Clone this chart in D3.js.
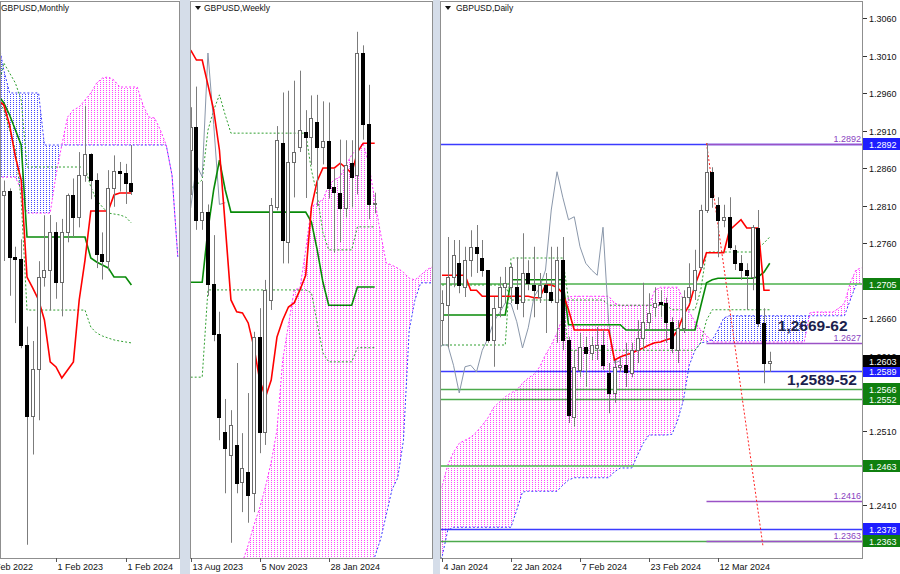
<!DOCTYPE html>
<html><head><meta charset="utf-8">
<script src="https://cdn.jsdelivr.net/npm/d3@7"></script>
<style>
html,body{margin:0;padding:0;background:#fff;}
svg{display:block;}
text{font-family:"Liberation Sans",Arial,sans-serif;}
</style></head><body>
<svg id="chart" width="900" height="574"></svg>
<script>
// ================= DATA =================
// ---- Monthly GBPUSD (index 0 = Feb 2023; first bar = Apr 2022) ----
const monthlyStart = -10;
const monthlyOpen  = [1.3098,1.2574,1.2601,1.2178,1.2169,1.1620,1.1172,1.1466,1.2054,1.2097,1.2340,1.2023,1.2337,1.2572,1.2435,1.2703,1.2835,1.2670,1.2200,1.2155,1.2622,1.2730,1.2718,1.2650];
const monthlyHigh  = [1.3167,1.2667,1.2617,1.2246,1.2293,1.1738,1.1646,1.2154,1.2446,1.2448,1.2402,1.2423,1.2584,1.2680,1.2848,1.3142,1.2840,1.2713,1.2337,1.2733,1.2827,1.2785,1.2773,1.2893];
const monthlyLow   = [1.2411,1.2155,1.1934,1.1760,1.1600,1.0350,1.0924,1.1142,1.1992,1.1841,1.1915,1.1803,1.2274,1.2308,1.2369,1.2659,1.2548,1.2110,1.2037,1.2096,1.2500,1.2597,1.2518,1.2575];
const monthlyClose = [1.2574,1.2601,1.2178,1.2169,1.1620,1.1172,1.1466,1.2054,1.2097,1.2340,1.2023,1.2337,1.2572,1.2435,1.2703,1.2835,1.2670,1.2200,1.2155,1.2622,1.2730,1.2718,1.2650,1.2603];
const monthlyTenkan = [1.3179,1.3147,1.3020,1.2817,1.2670,1.2053,1.1983,1.1907,1.1780,1.1513,1.1481,1.1411,1.1462,1.1513,1.1907,1.2161,1.2473,1.2473,1.2473,1.2473,1.2575,1.2588,1.2588,1.2588];
const monthlyKijun  = [1.3211,1.3160,1.3084,1.2988,1.2893,1.2308,1.2308,1.2308,1.2308,1.2308,1.2308,1.2308,1.2308,1.2308,1.2308,1.2308,1.2174,1.2149,1.2130,1.2111,1.2053,1.2053,1.2053,1.2002];
const monthlyUpperBand = [1.3243,1.3415,1.3351,1.3287,1.3179,1.2753,1.2753,1.2753,1.2753,1.2753,1.2753,1.2753,1.2753,1.2753,1.2753,1.2753,1.2626,1.2543,1.2499,1.2460,1.2454,1.2448,1.2435,1.2397];
const monthlyLowerBand = [1.3179,1.3116,1.2988,1.2861,1.2543,1.1843,1.1843,1.1843,1.1843,1.1843,1.1843,1.1843,1.1843,1.1843,1.1843,1.1843,1.1735,1.1697,1.1678,1.1665,1.1653,1.1646,1.1640,1.1634];
const monthlyCloudStart = -10;
const monthlySpanA = [1.3561,1.3370,1.3224,1.3224,1.3224,1.3224,1.3224,1.3224,1.2893,1.2893,1.2893,1.2893,1.2893,1.2893,1.2893,1.2893,1.2893,1.2893,1.2893,1.2893,1.2893,1.2893,1.2893,1.2893,1.2893,1.2893,1.2893,1.2893,1.2893,1.2893,1.2702,1.2181];
const monthlySpanB = [1.2689,1.2689,1.2689,1.2689,1.2607,1.2460,1.2460,1.2460,1.2460,1.2460,1.2702,1.2893,1.3071,1.3116,1.3135,1.3179,1.3224,1.3287,1.3319,1.3326,1.3306,1.3262,1.3262,1.3262,1.3262,1.3147,1.3071,1.3065,1.2988,1.2893,1.2702,1.2181];
const monthlyTickIdx = [-12, 0, 12];
const monthlyTickLabels = ["1 Feb 2022","1 Feb 2023","1 Feb 2024"];

// ---- Weekly GBPUSD (index 0 = week of 13 Aug 2023) ----
const weeklyStart = 0;
const weeklyOpen  = [1.2692,1.2731,1.2574,1.2588,1.2465,1.2381,1.2214,1.2175,1.2192,1.2129,1.2146,1.2110,1.2375,1.2214,1.2438,1.2596,1.2704,1.2536,1.2672,1.2697,1.2723,1.2714,1.2740,1.2697,1.2708,1.2630,1.2619,1.2594,1.2670,1.2650,1.2857,1.2736,1.2600];
const weeklyHigh  = [1.2765,1.2800,1.2640,1.2600,1.2548,1.2418,1.2270,1.2251,1.2331,1.2212,1.2280,1.2384,1.2424,1.2472,1.2611,1.2733,1.2790,1.2793,1.2810,1.2827,1.2760,1.2785,1.2786,1.2775,1.2773,1.2660,1.2710,1.2709,1.2709,1.2893,1.2870,1.2803,1.2620];
const weeklyLow   = [1.2616,1.2557,1.2557,1.2445,1.2368,1.2200,1.2110,1.2026,1.2110,1.2078,1.2060,1.2078,1.2178,1.2192,1.2421,1.2590,1.2500,1.2500,1.2612,1.2689,1.2611,1.2667,1.2597,1.2668,1.2610,1.2518,1.2536,1.2578,1.2595,1.2617,1.2710,1.2575,1.2585];
const weeklyClose = [1.2731,1.2574,1.2588,1.2465,1.2381,1.2239,1.2187,1.2226,1.2127,1.2153,1.2107,1.2375,1.2214,1.2455,1.2599,1.2709,1.2540,1.2672,1.2689,1.2726,1.2714,1.2747,1.2697,1.2708,1.2628,1.2621,1.2594,1.2667,1.2647,1.2857,1.2736,1.2600,1.2603];
const weeklyTenkan = [1.2862,1.2845,1.2845,1.2803,1.2760,1.2692,1.2565,1.2438,1.2418,1.2416,1.2399,1.2358,1.2302,1.2273,1.2302,1.2375,1.2404,1.2426,1.2433,1.2455,1.2480,1.2596,1.2640,1.2662,1.2662,1.2662,1.2670,1.2662,1.2653,1.2689,1.2704,1.2704,1.2704];
const weeklyKijun  = [1.2468,1.2468,1.2468,1.2557,1.2625,1.2675,1.2625,1.2587,1.2587,1.2587,1.2587,1.2587,1.2587,1.2587,1.2587,1.2587,1.2587,1.2587,1.2587,1.2587,1.2587,1.2570,1.2523,1.2468,1.2429,1.2429,1.2429,1.2429,1.2429,1.2460,1.2460,1.2460,1.2460];
const weeklyUpperBand = [1.2628,1.2633,1.2642,1.2726,1.2760,1.2786,1.2752,1.2721,1.2721,1.2721,1.2721,1.2721,1.2721,1.2721,1.2721,1.2721,1.2721,1.2721,1.2721,1.2721,1.2721,1.2658,1.2616,1.2552,1.2523,1.2523,1.2523,1.2523,1.2523,1.2562,1.2562,1.2562,1.2562];
const weeklyLowerBand = [1.2307,1.2307,1.2307,1.2455,1.2455,1.2455,1.2455,1.2455,1.2455,1.2455,1.2455,1.2455,1.2455,1.2455,1.2455,1.2455,1.2455,1.2455,1.2455,1.2455,1.2455,1.2450,1.2399,1.2348,1.2333,1.2333,1.2333,1.2333,1.2333,1.2357,1.2357,1.2357,1.2357];
const weeklyCloudStart = 9;
const weeklySpanB = [1.1993,1.2022,1.2056,1.2085,1.2121,1.2163,1.2217,1.2336,1.2396,1.2455,1.2458,1.2523,1.2596,1.2603,1.2608,1.2633,1.2642,1.2647,1.2667,1.2684,1.2696,1.2704,1.2667,1.2608,1.2552,1.2501,1.2497,1.2492,1.2485,1.2475,1.2472,1.2480,1.2489,1.2494];
const weeklySpanAStart = 32; // earlier values lie below the visible range
const weeklySpanA = [1.2002,1.2031,1.2073,1.2116,1.2136,1.2200,1.2387,1.2438,1.2467,1.2467,1.2467];
const weeklyTickIdx = [0, 12, 24];
const weeklyTickLabels = ["13 Aug 2023","5 Nov 2023","28 Jan 2024"];

// ---- Daily GBPUSD (index 0 = 4 Jan 2024) ----
const dailyStart = 0;
const dailyOpen  = [1.2657,1.2677,1.2715,1.2733,1.2701,1.2737,1.2755,1.2740,1.2724,1.2631,1.2675,1.2701,1.2701,1.2701,1.2681,1.2720,1.2704,1.2688,1.2704,1.2695,1.2681,1.2737,1.2631,1.2528,1.2591,1.2621,1.2613,1.2620,1.2624,1.2587,1.2560,1.2595,1.2597,1.2587,1.2617,1.2633,1.2655,1.2675,1.2681,1.2680,1.2655,1.2617,1.2647,1.2688,1.2697,1.2728,1.2804,1.2855,1.2811,1.2791,1.2795,1.2751,1.2733,1.2724,1.2715,1.2780,1.2653,1.2600];
const dailyHigh  = [1.2697,1.2768,1.2764,1.2764,1.2755,1.2777,1.2784,1.2764,1.2724,1.2688,1.2715,1.2728,1.2733,1.2741,1.2773,1.2737,1.2755,1.2720,1.2720,1.2755,1.2755,1.2768,1.2635,1.2617,1.2640,1.2635,1.2635,1.2648,1.2644,1.2600,1.2604,1.2608,1.2627,1.2627,1.2657,1.2707,1.2693,1.2701,1.2697,1.2687,1.2661,1.2657,1.2697,1.2733,1.2751,1.2811,1.2893,1.2861,1.2821,1.2811,1.2821,1.2757,1.2744,1.2733,1.2784,1.2804,1.2673,1.2615];
const dailyLow   = [1.2624,1.2621,1.2701,1.2693,1.2688,1.2715,1.2720,1.2715,1.2627,1.2595,1.2661,1.2680,1.2680,1.2671,1.2661,1.2697,1.2661,1.2680,1.2640,1.2680,1.2627,1.2617,1.2520,1.2515,1.2581,1.2568,1.2604,1.2604,1.2591,1.2533,1.2547,1.2588,1.2568,1.2581,1.2600,1.2617,1.2644,1.2661,1.2661,1.2627,1.2613,1.2600,1.2640,1.2680,1.2684,1.2724,1.2800,1.2807,1.2741,1.2781,1.2751,1.2724,1.2711,1.2671,1.2697,1.2648,1.2573,1.2588];
const dailyClose = [1.2680,1.2715,1.2744,1.2704,1.2737,1.2755,1.2747,1.2724,1.2631,1.2673,1.2701,1.2707,1.2728,1.2680,1.2720,1.2707,1.2697,1.2704,1.2695,1.2684,1.2737,1.2631,1.2531,1.2595,1.2621,1.2613,1.2624,1.2624,1.2597,1.2560,1.2595,1.2597,1.2588,1.2617,1.2633,1.2655,1.2667,1.2680,1.2679,1.2655,1.2620,1.2647,1.2688,1.2701,1.2724,1.2804,1.2855,1.2821,1.2791,1.2795,1.2755,1.2733,1.2724,1.2717,1.2781,1.2653,1.2600,1.2603];
const dailyTenkan = [1.2717,1.2717,1.2717,1.2717,1.2717,1.2697,1.2697,1.2689,1.2689,1.2689,1.2689,1.2689,1.2689,1.2689,1.2689,1.2689,1.2687,1.2687,1.2704,1.2704,1.2701,1.2693,1.2671,1.2644,1.2644,1.2644,1.2644,1.2644,1.2644,1.2644,1.2604,1.2608,1.2611,1.2613,1.2617,1.2620,1.2624,1.2627,1.2628,1.2631,1.2633,1.2644,1.2664,1.2677,1.2704,1.2724,1.2747,1.2747,1.2747,1.2747,1.2777,1.2784,1.2791,1.2780,1.2780,1.2780,1.2697,1.2697];
const dailyKijun  = [1.2664,1.2664,1.2664,1.2664,1.2664,1.2664,1.2664,1.2664,1.2664,1.2664,1.2664,1.2664,1.2711,1.2711,1.2711,1.2711,1.2711,1.2711,1.2711,1.2711,1.2711,1.2711,1.2651,1.2651,1.2651,1.2651,1.2651,1.2651,1.2651,1.2651,1.2651,1.2651,1.2644,1.2644,1.2644,1.2644,1.2644,1.2644,1.2644,1.2644,1.2644,1.2644,1.2644,1.2644,1.2644,1.2676,1.2707,1.2711,1.2713,1.2713,1.2713,1.2713,1.2713,1.2713,1.2713,1.2715,1.2721,1.2733];
const dailyBandA = [1.2624,1.2624,1.2624,1.2624,1.2624,1.2624,1.2624,1.2624,1.2624,1.2624,1.2624,1.2624,1.2740,1.2740,1.2740,1.2740,1.2740,1.2740,1.2740,1.2740,1.2740,1.2740,1.2684,1.2684,1.2684,1.2684,1.2684,1.2684,1.2684,1.2677,1.2677,1.2677,1.2677,1.2677,1.2677,1.2677,1.2677,1.2677,1.2677,1.2677,1.2671,1.2671,1.2671,1.2671,1.2671,1.2697,1.2748,1.2748,1.2748,1.2748,1.2748,1.2748,1.2748,1.2748,1.2748,1.2753,1.2760,1.2768];
const dailyBandB = [1.2704,1.2704,1.2704,1.2704,1.2704,1.2704,1.2704,1.2704,1.2704,1.2704,1.2704,1.2704,1.2684,1.2684,1.2684,1.2684,1.2684,1.2684,1.2684,1.2684,1.2684,1.2684,1.2617,1.2617,1.2617,1.2617,1.2617,1.2617,1.2617,1.2617,1.2617,1.2617,1.2617,1.2617,1.2617,1.2617,1.2617,1.2617,1.2617,1.2617,1.2617,1.2617,1.2617,1.2617,1.2617,1.2627,1.2657,1.2671,1.2671,1.2671,1.2671,1.2671,1.2671,1.2671,1.2671,1.2671,1.2671,1.2671];
const dailyCloudStart = -1;
const dailySpanA = [1.2337,1.2341,1.2377,1.2381,1.2381,1.2381,1.2381,1.2381,1.2381,1.2381,1.2381,1.2381,1.2381,1.2381,1.2404,1.2428,1.2429,1.2429,1.2429,1.2429,1.2429,1.2429,1.2437,1.2444,1.2447,1.2447,1.2447,1.2447,1.2447,1.2447,1.2447,1.2455,1.2460,1.2460,1.2460,1.2477,1.2493,1.2504,1.2504,1.2504,1.2504,1.2505,1.2524,1.2551,1.2597,1.2617,1.2627,1.2628,1.2631,1.2644,1.2660,1.2663,1.2663,1.2663,1.2663,1.2663,1.2663,1.2663,1.2663,1.2663,1.2663,1.2663,1.2663,1.2663,1.2663,1.2663,1.2663,1.2663,1.2663,1.2663,1.2663,1.2663,1.2684,1.2704,1.2707];
const dailySpanB = [1.2431,1.2435,1.2464,1.2481,1.2493,1.2497,1.2501,1.2508,1.2517,1.2527,1.2541,1.2548,1.2555,1.2560,1.2564,1.2573,1.2580,1.2585,1.2595,1.2611,1.2624,1.2640,1.2661,1.2688,1.2689,1.2689,1.2689,1.2689,1.2689,1.2689,1.2689,1.2680,1.2677,1.2677,1.2677,1.2677,1.2677,1.2677,1.2697,1.2701,1.2701,1.2701,1.2701,1.2684,1.2668,1.2655,1.2644,1.2637,1.2628,1.2628,1.2628,1.2628,1.2628,1.2628,1.2628,1.2628,1.2628,1.2628,1.2628,1.2628,1.2628,1.2628,1.2628,1.2628,1.2628,1.2667,1.2668,1.2668,1.2668,1.2668,1.2673,1.2680,1.2707,1.2724,1.2727];
const dailyTrend = [[46,1.2893],[55.8,1.2357]];
const dailyGreenLevels  = [1.2705,1.2566,1.2552,1.2463,1.2363];
const dailyBlueLevels   = [1.2892,1.2589,1.2378];
const dailyPurpleLevels = [1.2892,1.2627,1.2416,1.2363];
const dailyPurpleFrom = 46;
const dailyZones = [{text:"1,2669-62", i:58.4, p:1.2643},{text:"1,2589-52", i:60.0, p:1.2571}];
const dailyTickIdx = [0,12,24,36,48];
const dailyTickLabels = ["4 Jan 2024","22 Jan 2024","7 Feb 2024","23 Feb 2024","12 Mar 2024"];
// tick labels of the price scale (those fully hidden behind level boxes are left out)
const priceAxisLabels = ["1.3060","1.3010","1.2960","1.2910","1.2860","1.2810","1.2760","1.2710","1.2660","1.2610","1.2510","1.2410"];

// ================= DRAWING =================
const svg = d3.select("#chart");
const defs = svg.append("defs");
function hatch(id,col){
  const p=defs.append("pattern").attr("id",id).attr("patternUnits","userSpaceOnUse").attr("width",3).attr("height",2);
  p.append("rect").attr("x",1).attr("y",0).attr("width",1).attr("height",1).attr("fill",col);
}
hatch("hatchM","#ff44ff"); hatch("hatchB","#4545ff");

svg.append("rect").attr("x",0).attr("y",0).attr("width",900).attr("height",574).attr("fill","#fff");
svg.append("rect").attr("x",180).attr("y",0).attr("width",10).attr("height",574).attr("fill","#d5dde9");
svg.append("rect").attr("x",433).attr("y",0).attr("width",7).attr("height",574).attr("fill","#d5dde9");

const xM=d3.scaleLinear().domain([0,12]).range([56,125.6]);
const yM=d3.scaleLinear().domain([1.0400,1.2893]).range([536.9,145]);
const xW=d3.scaleLinear().domain([0,24]).range([190.7,328.7]);
const yW=d3.scaleLinear().domain([1.2000,1.2857]).range([558.1,53]);
const xD=d3.scaleLinear().domain([0,48]).range([442,718]);
const yD=d3.scaleLinear().domain([1.2360,1.3060]).range([543,18]);

const ser=(start,arr)=>arr.map((v,j)=>({i:start+j,v}));
const candles=(start,o,h,l,c)=>o.map((v,j)=>({i:start+j,o:v,h:h[j],l:l[j],c:c[j]}));

function drawPanel(P){
  const {id,x0,x1,y0,y1,x,y}=P;
  svg.append("rect").attr("x",x0).attr("y",y0).attr("width",x1-x0).attr("height",y1-y0).attr("fill","#fff");
  defs.append("clipPath").attr("id","clip"+id).append("rect").attr("x",x0).attr("y",y0).attr("width",x1-x0).attr("height",y1-y0);
  const g=svg.append("g").attr("clip-path",`url(#clip${id})`);
  const pts=P.cloud;
  const ay=d=>d.a==null? y1+20 : y(d.a);
  defs.append("clipPath").attr("id","ab"+id).append("path").attr("d",d3.area().x(d=>x(d.i)).y0(y0-20).y1(ay)(pts));
  defs.append("clipPath").attr("id","be"+id).append("path").attr("d",d3.area().x(d=>x(d.i)).y0(ay).y1(y1+20)(pts));
  const ar=d3.area().x(d=>x(d.i)).y0(ay).y1(d=>y(d.b));
  g.append("path").attr("d",ar(pts)).attr("fill","url(#hatchM)").attr("clip-path",`url(#ab${id})`);
  g.append("path").attr("d",ar(pts)).attr("fill","url(#hatchB)").attr("clip-path",`url(#be${id})`);
  g.append("path").attr("d",d3.line().defined(d=>d.a!=null).x(d=>x(d.i)).y(d=>y(d.a))(pts))
    .attr("fill","none").attr("stroke","#3c3cff").attr("stroke-width",1).attr("stroke-dasharray","2,2");
  g.append("path").attr("d",d3.line().x(d=>x(d.i)).y(d=>y(d.b))(pts))
    .attr("fill","none").attr("stroke","#ff33ff").attr("stroke-width",1).attr("stroke-dasharray","2,2");
  if(P.levels) P.levels(g);
  const ln=d3.line().x(d=>x(d.i)).y(d=>y(d.v));
  [P.bandU,P.bandL].forEach(s=>g.append("path").attr("d",ln(s)).attr("fill","none")
      .attr("stroke","#2f9f2f").attr("stroke-width",1).attr("stroke-dasharray","2,2"));
  if(P.chikou) g.append("path").attr("d",ln(P.chikou)).attr("fill","none").attr("stroke","#8a97aa").attr("stroke-width",1);
  g.append("path").attr("d",ln(P.kijun)).attr("fill","none").attr("stroke","#088a08").attr("stroke-width",1.6);
  g.append("path").attr("d",ln(P.tenkan)).attr("fill","none").attr("stroke","#ff0000").attr("stroke-width",1.6);
  if(P.trend) g.append("path").attr("d",d3.line().x(d=>x(d[0])).y(d=>y(d[1]))(P.trend))
      .attr("fill","none").attr("stroke","#ff2020").attr("stroke-width",1).attr("stroke-dasharray","2,2");
  const cg=g.append("g");
  P.candles.forEach(d=>{
    const cx=Math.round(x(d.i));
    cg.append("line").attr("x1",cx+0.5).attr("x2",cx+0.5).attr("y1",y(d.h)).attr("y2",y(d.l))
      .attr("stroke","#7c7c7c").attr("stroke-width",1);
    const top=Math.round(y(Math.max(d.o,d.c))), bot=Math.round(y(Math.min(d.o,d.c)));
    const bull=d.c>=d.o;
    cg.append("rect").attr("x",cx-1.5).attr("y",top+0.5).attr("width",3).attr("height",Math.max(bot-top,1))
      .attr("fill",bull?"#fff":"#000").attr("stroke",bull?"#6a6a6a":"#000").attr("stroke-width",1);
  });
  svg.append("rect").attr("x",x0+0.5).attr("y",y0+0.5).attr("width",x1-x0-1).attr("height",y1-y0)
    .attr("fill","none").attr("stroke","#8f8f8f").attr("stroke-width",1);
  P.ticks.forEach((t,k)=>{
    const tx=Math.round(x(t))+0.5;
    svg.append("line").attr("x1",tx).attr("x2",tx).attr("y1",y1).attr("y2",y1+4).attr("stroke","#555");
    svg.append("text").attr("x",tx+1).attr("y",y1+12).attr("font-size",9).attr("fill","#111").text(P.tickLabels[k]);
  });
  if(P.arrow){
    svg.append("path").attr("d",`M${x0+5},${y0+5}h6l-3,4z`).attr("fill","#111");
  }
  svg.append("text").attr("x",P.hx).attr("y",y0+10).attr("font-size",8.5).attr("fill","#111").text(P.title);
}

const mCloud=monthlySpanB.map((b,j)=>({i:monthlyCloudStart+j,a:monthlySpanA[j],b}));
drawPanel({id:"M",x0:0,x1:180,y0:1,y1:558,x:xM,y:yM,
  cloud:mCloud,
  candles:candles(monthlyStart,monthlyOpen,monthlyHigh,monthlyLow,monthlyClose),
  tenkan:ser(monthlyStart,monthlyTenkan),kijun:ser(monthlyStart,monthlyKijun),
  bandU:ser(monthlyStart,monthlyUpperBand),bandL:ser(monthlyStart,monthlyLowerBand),
  ticks:monthlyTickIdx,tickLabels:monthlyTickLabels,title:"GBPUSD,Monthly",hx:1,arrow:false});

const wCloud=weeklySpanB.map((b,j)=>{const i=weeklyCloudStart+j;const k=i-weeklySpanAStart;return {i,a:k>=0?weeklySpanA[k]:null,b};});
drawPanel({id:"W",x0:190,x1:433,y0:1,y1:558,x:xW,y:yW,
  cloud:wCloud,
  candles:candles(weeklyStart,weeklyOpen,weeklyHigh,weeklyLow,weeklyClose),
  tenkan:ser(weeklyStart,weeklyTenkan),kijun:ser(weeklyStart,weeklyKijun),
  bandU:ser(weeklyStart,weeklyUpperBand),bandL:ser(weeklyStart,weeklyLowerBand),
  chikou:weeklyClose.slice(25).map((c,j)=>({i:25+j-26,v:c})),
  ticks:weeklyTickIdx,tickLabels:weeklyTickLabels,title:"GBPUSD,Weekly",hx:204,arrow:true});

const dCloud=dailySpanB.map((b,j)=>({i:dailyCloudStart+j,a:dailySpanA[j],b}));
const dX0=440,dX1=863;
function dailyLevels(g){
  const hl=(v,xa,xb,col,w)=>{const yy=Math.round(yD(v))+(w%2?0.5:0);
    g.append("line").attr("x1",xa).attr("x2",xb).attr("y1",yy).attr("y2",yy).attr("stroke",col).attr("stroke-width",w);};
  dailyGreenLevels.forEach(v=>hl(v,dX0,dX1,(v===1.2705||v===1.2463)?"#78c478":"#4caa4c",(v===1.2705||v===1.2463)?2:1.5));
  dailyBlueLevels.forEach(v=>hl(v,dX0,dX1,"#3b3bff",1.5));
  dailyPurpleLevels.forEach(v=>hl(v,xD(dailyPurpleFrom),dX1,"#9a52c6",1.5));
}
drawPanel({id:"D",x0:dX0,x1:dX1,y0:1,y1:558,x:xD,y:yD,
  cloud:dCloud,levels:dailyLevels,trend:dailyTrend,
  candles:candles(dailyStart,dailyOpen,dailyHigh,dailyLow,dailyClose),
  tenkan:ser(dailyStart,dailyTenkan),kijun:ser(dailyStart,dailyKijun),
  bandU:ser(dailyStart,dailyBandA),bandL:ser(dailyStart,dailyBandB),
  chikou:dailyClose.slice(25).map((c,j)=>({i:25+j-26,v:c})),
  ticks:dailyTickIdx,tickLabels:dailyTickLabels,title:"GBPUSD,Daily",hx:456,arrow:true});

dailyPurpleLevels.forEach(v=>{
  svg.append("text").attr("x",dX1-2).attr("y",yD(v)-2).attr("text-anchor","end").attr("font-size",9)
    .attr("fill","#8a3fbf").text(v.toFixed(4));
});
dailyZones.forEach(z=>{
  svg.append("text").attr("x",xD(z.i)).attr("y",yD(z.p)).attr("font-family","'Liberation Serif','Times New Roman',serif")
    .attr("font-weight","bold").attr("font-size",15.5).attr("fill","#1c1f4e").text(z.text);
});
priceAxisLabels.forEach(s=>{
  const yy=Math.round(yD(+s))+0.5;
  svg.append("line").attr("x1",dX1).attr("x2",dX1+4).attr("y1",yy).attr("y2",yy).attr("stroke","#333");
  svg.append("text").attr("x",dX1+6).attr("y",yy+3.5).attr("font-size",9).attr("fill","#111").text(s);
});
const boxes=[...dailyGreenLevels.map(v=>[v,"#0f7f0f"]),...dailyBlueLevels.map(v=>[v,"#1e1eff"]),[dailyClose[dailyClose.length-1],"#000"]];
boxes.forEach(([v,col])=>{
  const yy=Math.round(yD(v));
  svg.append("rect").attr("x",dX1).attr("y",yy-6).attr("width",900-dX1).attr("height",12).attr("fill",col);
  svg.append("text").attr("x",dX1+6).attr("y",yy+3.5).attr("font-size",9).attr("fill","#fff").text(v.toFixed(4));
});
</script>
</body></html>
